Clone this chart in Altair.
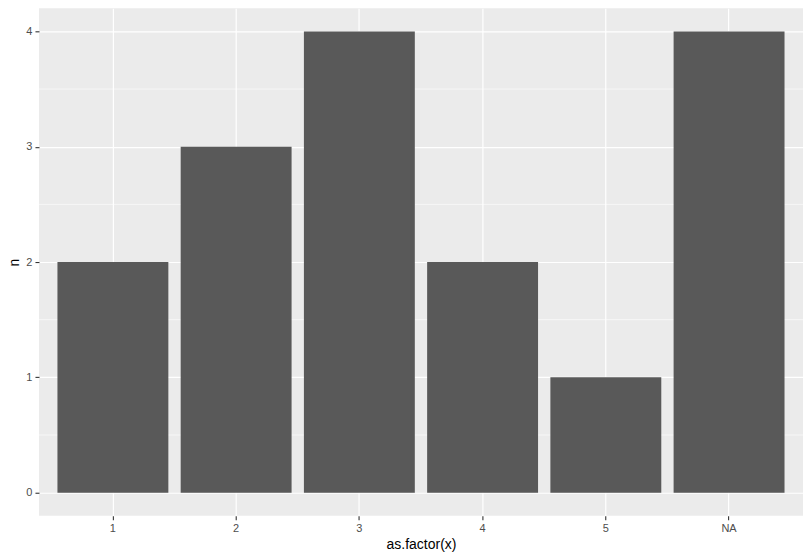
import altair as alt
import pandas as pd

categories = ["1", "2", "3", "4", "5", "NA"]
counts = [2, 3, 4, 2, 1, 4]
minor_breaks = [0.5, 1.5, 2.5, 3.5]

df = pd.DataFrame({"x": categories, "n": counts})
minor_df = pd.DataFrame({"m": minor_breaks})

yscale = alt.Scale(domain=[-0.2, 4.2], nice=False, zero=False)
xscale = alt.Scale(domain=categories, paddingInner=0.1, paddingOuter=0.15)

yaxis = alt.Axis(title="n", values=[0, 1, 2, 3, 4], format="d",
                 grid=True, gridColor="white", gridWidth=1.2,
                 tickColor="#333333", tickSize=4, tickWidth=1.1,
                 labelColor="#4D4D4D", labelFontSize=11, labelPadding=3,
                 titleFontSize=14, titleFontWeight="normal", titleColor="black",
                 titlePadding=4, domain=False)

bars = alt.Chart(df).mark_bar(color="#595959").encode(
    x=alt.X("x:N", scale=xscale, sort=categories,
            axis=alt.Axis(title="as.factor(x)", labelAngle=0, bandPosition=0.5,
                          grid=True, gridColor="white", gridWidth=1.2,
                          tickColor="#333333", tickSize=4, tickWidth=1.1,
                          labelColor="#4D4D4D", labelFontSize=11, labelPadding=3,
                          titleFontSize=14, titleFontWeight="normal", titleColor="black",
                          titlePadding=4, domain=False)),
    y=alt.Y("n:Q", scale=yscale, axis=yaxis),
)

minor = alt.Chart(minor_df).mark_rule(color="white", strokeWidth=0.6).encode(
    y=alt.Y("m:Q", scale=yscale, axis=yaxis)
)

chart = alt.layer(minor, bars).properties(
    width=765, height=508,
    autosize=alt.AutoSizeParams(type="none"),
    padding={"left": 31, "top": 0, "right": 1, "bottom": 41},
).configure(
    font="Liberation Sans", background="white"
).configure_view(fill="#EBEBEB", stroke=None)

chart.save("out.html", embed_options={"renderer": "svg", "actions": False})
